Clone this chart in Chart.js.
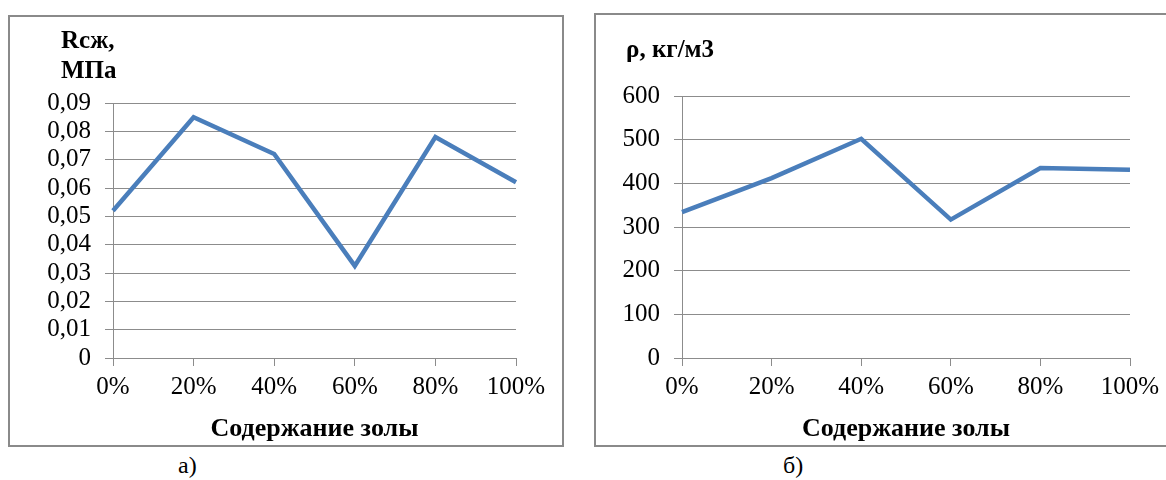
<!DOCTYPE html>
<html>
<head>
<meta charset="utf-8">
<script src="https://cdn.jsdelivr.net/npm/chart.js@4.4.1/dist/chart.umd.min.js"></script>
<style>
  html, body { margin: 0; padding: 0; background: #ffffff; }
  body { width: 1166px; height: 480px; position: relative; overflow: hidden; font-family: "Liberation Serif", serif; }
  .box { position: absolute; border: 2px solid #8a8a8a; box-sizing: border-box; background: #fff; }
  .box canvas { position: absolute; left: 0; top: 0; }
  .cap { position: absolute; font-family: "Liberation Serif", serif; font-size: 24px; color: #000; }
  .warm { position: absolute; left: -1000px; top: 0; font-family: "Liberation Serif"; }
</style>
</head>
<body>
<div class="warm">0,09 <b>Содержание золы</b></div>
<div class="box" id="boxA" style="left:8px; top:15px; width:556px; height:432px;">
  <canvas id="chartA" width="552" height="428" style="width:552px;height:428px;"></canvas>
</div>
<div class="box" id="boxB" style="left:594px; top:13px; width:590px; height:434px;">
  <canvas id="chartB" width="570" height="430" style="width:570px;height:430px;"></canvas>
</div>
<div class="cap" style="left:178px; top:452px;">а)</div>
<div class="cap" style="left:783px; top:452px;">б)</div>
<script>
// ---- data ----
const categories = ["0%", "20%", "40%", "60%", "80%", "100%"];
const strengthValues = [0.052, 0.085, 0.072, 0.0325, 0.078, 0.062];   // Rсж, МПа
const densityValues = [334, 412, 502, 317, 435, 431];                  // ρ, кг/м3
const strengthTicks = [0, 0.01, 0.02, 0.03, 0.04, 0.05, 0.06, 0.07, 0.08, 0.09];
const densityTicks = [0, 100, 200, 300, 400, 500, 600];
const xTitle = "Содержание золы";
const yTitleA = ["Rcж,", "МПа"];
const yTitleB = ["ρ, кг/м3"];

const LINE_COLOR = "#4a7ebb";
const GRID_COLOR = "#8c8c8c";
const FAMILY = "'Liberation Serif', 'Times New Roman', serif";
const TICK_FONT = { family: FAMILY, size: 25 };
const TITLE_FONT = { family: FAMILY, size: 26, weight: "bold" };

function yTitlePlugin(lines, x, baselines) {
  return {
    id: "yTitle",
    afterDraw(chart) {
      const ctx = chart.ctx;
      ctx.save();
      ctx.fillStyle = "#000";
      ctx.font = "bold 25px " + FAMILY;
      ctx.textAlign = "left";
      ctx.textBaseline = "alphabetic";
      lines.forEach((t, i) => ctx.fillText(t, x, baselines[i]));
      ctx.restore();
    }
  };
}

function makeChart(id, values, ticks, yMax, fmt, yWidth, xHeight, padTop, padRight, plugin) {
  return new Chart(document.getElementById(id), {
    type: "line",
    data: {
      labels: categories,
      datasets: [{
        data: values,
        borderColor: LINE_COLOR,
        borderWidth: 4.5,
        pointRadius: 0,
        tension: 0,
        fill: false
      }]
    },
    options: {
      responsive: false,
      animation: false,
      layout: { padding: { top: padTop, right: padRight, left: 0, bottom: 0 } },
      plugins: { legend: { display: false }, tooltip: { enabled: false } },
      scales: {
        x: {
          offset: false,
          grid: { display: true, drawOnChartArea: false, drawTicks: true, tickLength: 8, color: GRID_COLOR },
          border: { display: true, color: GRID_COLOR, width: 1 },
          ticks: { color: "#000", font: TICK_FONT, padding: 6, maxRotation: 0, autoSkip: false },
          title: { display: true, text: xTitle, color: "#000", font: TITLE_FONT, padding: { top: 2, bottom: 0 } },
          afterFit(scale) { scale.height = xHeight; }
        },
        y: {
          min: 0,
          max: yMax,
          afterBuildTicks(scale) { scale.ticks = ticks.map(v => ({ value: v })); },
          grid: { color: GRID_COLOR, tickLength: 8, drawTicks: true },
          border: { display: true, color: GRID_COLOR, width: 1 },
          ticks: { color: "#000", font: TICK_FONT, padding: 14, autoSkip: false, callback: fmt },
          afterFit(scale) { scale.width = yWidth; }
        }
      }
    },
    plugins: [plugin]
  });
}

function draw() {
  makeChart("chartA", strengthValues, strengthTicks, 0.09,
    v => v === 0 ? "0" : v.toFixed(2).replace(".", ","),
    103, 87, 86, 46, yTitlePlugin(yTitleA, 51, [31, 61]));
  makeChart("chartB", densityValues, densityTicks, 600,
    v => String(v),
    86, 87, 81, 36, yTitlePlugin(yTitleB, 30, [42]));
}

Promise.all([
  document.fonts.load("25px 'Liberation Serif'"),
  document.fonts.load("bold 25px 'Liberation Serif'")
]).then(draw, draw);
</script>
</body>
</html>
